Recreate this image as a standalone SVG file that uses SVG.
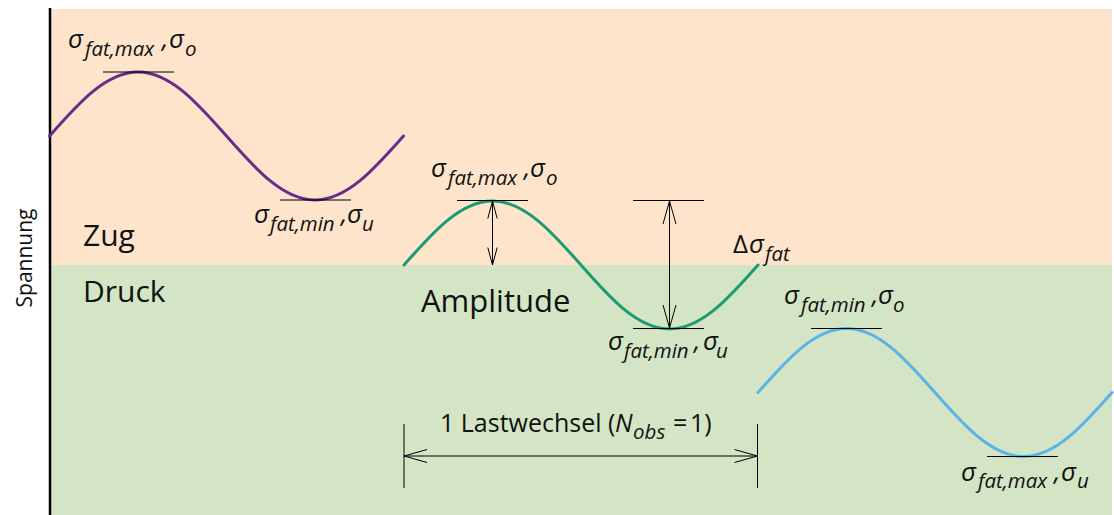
<svg xmlns="http://www.w3.org/2000/svg" width="1114" height="515" viewBox="0 0 1114 515">
<style>
.wave{fill:none;stroke-width:3;stroke-linecap:round}
.tick{stroke:#000;stroke-width:1;fill:none}
.dim{stroke:#000;stroke-width:1;fill:none}
.big{font-family:"Open Sans","Noto Sans","DejaVu Sans",sans-serif;font-size:30px;fill:#111}
.mid{font-family:"Open Sans","Noto Sans","DejaVu Sans",sans-serif;font-size:25px;fill:#111}
.sig{font-family:"Open Sans","Noto Sans","DejaVu Sans",sans-serif;font-size:26px;font-style:italic;fill:#111}
.sub{font-size:20.5px}
.ax{font-family:"Open Sans","Noto Sans","DejaVu Sans",sans-serif;font-size:21px;fill:#111}
</style>
<defs>
<path id="sine" d="M0,0 c29.16,-33.1 56.47,-64 88.5,-64 s59.34,30.9 88.5,64 s56.47,64 88.5,64 s59.34,-30.9 88.5,-64"/>
<marker id="ahL" markerUnits="userSpaceOnUse" markerWidth="30" markerHeight="20" refX="23" refY="6.5" orient="auto-start-reverse" overflow="visible">
<path d="M0,0 L23,6.5 L0,13" fill="none" stroke="#000" stroke-width="1"/>
</marker>
<marker id="ahS" markerUnits="userSpaceOnUse" markerWidth="24" markerHeight="14" refX="17.5" refY="4.7" orient="auto-start-reverse" overflow="visible">
<path d="M0,0 L17.5,4.7 L0,9.4" fill="none" stroke="#000" stroke-width="1"/>
</marker>
</defs>

<g id="background">
<rect x="50" y="9" width="1062" height="256" fill="#fde4cb"/>
<rect x="50" y="265" width="1062" height="250" fill="#d3e5c5"/>
<line x1="50" y1="8" x2="50" y2="515" stroke="#000" stroke-width="2.5"/>
<text class="ax" transform="translate(32,258) rotate(-90)" text-anchor="middle">Spannung</text>
<text class="big" x="83" y="246">Zug</text>
<text class="big" x="83" y="302">Druck</text>
</g>

<g id="wave-purple">
<use href="#sine" x="49.5" y="136" class="wave" stroke="#6c2b8b"/>
<line class="tick" x1="103" y1="72" x2="174" y2="72"/>
<line class="tick" x1="280" y1="200" x2="351" y2="200"/>
<text class="sig" y="48"><tspan x="68">σ</tspan><tspan class="sub" x="85" y="56">fat,max</tspan><tspan x="162" y="48">,</tspan><tspan x="169" y="48">σ</tspan><tspan class="sub" x="185" y="56">o</tspan></text>
<text class="sig" y="223"><tspan x="254">σ</tspan><tspan class="sub" x="270" y="231">fat,min</tspan><tspan x="341" y="223">,</tspan><tspan x="347" y="223">σ</tspan><tspan class="sub" x="362" y="231">u</tspan></text>
</g>

<g id="wave-green">
<use href="#sine" x="404" y="265" class="wave" stroke="#1b9b70"/>
<line class="tick" x1="457" y1="200.5" x2="528" y2="200.5"/>
<line class="tick" x1="633" y1="200.5" x2="704" y2="200.5"/>
<line class="tick" x1="633" y1="328.5" x2="704" y2="328.5"/>
<text class="sig" y="177"><tspan x="431">σ</tspan><tspan class="sub" x="448" y="185">fat,max</tspan><tspan x="524" y="177">,</tspan><tspan x="530" y="177">σ</tspan><tspan class="sub" x="546" y="185">o</tspan></text>
<text class="sig" y="350"><tspan x="608">σ</tspan><tspan class="sub" x="624" y="358">fat,min</tspan><tspan x="694" y="350">,</tspan><tspan x="703" y="350">σ</tspan><tspan class="sub" x="716" y="358">u</tspan></text>
<text class="sig" y="253"><tspan x="733" font-style="normal">Δ</tspan><tspan x="749">σ</tspan><tspan class="sub" x="765" y="261">fat</tspan></text>
<text class="big" x="421" y="312" style="font-size:31px">Amplitude</text>
</g>

<g id="wave-blue">
<use href="#sine" x="758" y="392.5" class="wave" stroke="#5ab4e6"/>
<line class="tick" x1="811" y1="328.5" x2="882" y2="328.5"/>
<line class="tick" x1="987" y1="456.5" x2="1058" y2="456.5"/>
<text class="sig" y="304"><tspan x="784">σ</tspan><tspan class="sub" x="801" y="312">fat,min</tspan><tspan x="872" y="304">,</tspan><tspan x="878" y="304">σ</tspan><tspan class="sub" x="893" y="312">o</tspan></text>
<text class="sig" y="481"><tspan x="961">σ</tspan><tspan class="sub" x="978" y="488">fat,max</tspan><tspan x="1054" y="481">,</tspan><tspan x="1061" y="481">σ</tspan><tspan class="sub" x="1077" y="488">u</tspan></text>
</g>

<g id="connectors">
<line class="dim" x1="492.5" y1="201" x2="492.5" y2="265" marker-start="url(#ahS)" marker-end="url(#ahS)"/>
<line class="dim" x1="669.5" y1="201" x2="669.5" y2="328" marker-start="url(#ahL)" marker-end="url(#ahL)"/>
<line class="dim" x1="404" y1="424" x2="404" y2="488"/>
<line class="dim" x1="757.5" y1="424" x2="757.5" y2="488"/>
<line class="dim" x1="404" y1="456" x2="757.5" y2="456" marker-start="url(#ahL)" marker-end="url(#ahL)"/>
<text class="mid" y="432"><tspan x="440">1 Lastwechsel (</tspan><tspan x="615" font-style="italic">N</tspan><tspan x="633" y="439" font-style="italic" style="font-size:20.5px">obs</tspan><tspan x="673" y="432">=</tspan><tspan x="690">1)</tspan></text>
</g>
</svg>
